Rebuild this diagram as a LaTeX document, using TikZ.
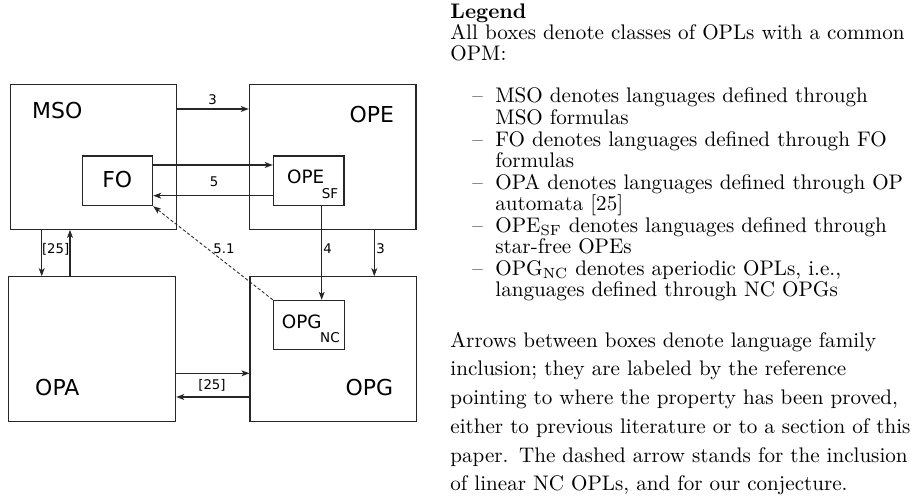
\documentclass[tikz,border=0pt]{standalone}
\usepackage{fontspec}
\newfontfamily\diagfont{DejaVu Sans}
\usetikzlibrary{arrows.meta,fit}

\tikzset{
  box/.style={draw=black!85, line width=0.5pt, inner sep=0pt},
  boxname/.style={font=\diagfont\fontsize{10.4}{12}\selectfont, inner sep=0pt},
  innername/.style={font=\diagfont\fontsize{8.7}{10}\selectfont, inner sep=0pt},
  subname/.style={font=\diagfont\fontsize{6.4}{7}\selectfont, inner sep=0pt},
  edgelbl/.style={font=\diagfont\fontsize{6.3}{7}\selectfont, inner sep=0pt},
  incl/.style={draw=black!85, line width=0.5pt, -{Stealth[length=3.8pt,width=2.8pt,inset=1pt]}},
  conj/.style={incl, dash pattern=on 1.5pt off 1pt, line width=0.4pt},
  legendtxt/.style={inner sep=0pt, text width=240pt, align=left, anchor=base west},
}

\begin{document}
\begin{tikzpicture}[x=0.474pt, y=-0.474pt]
\useasboundingbox (0,0) rectangle (915,503);

% the four classes
\node[box, fit={(10.7,84.3) (176.7,229.3)}] (mso) {};
\node[box, fit={(249.3,84.3) (416,229.3)}] (ope) {};
\node[box, fit={(8.3,276.7) (175.7,421.7)}] (opa) {};
\node[box, fit={(250,276.7) (416.7,421.7)}] (opg) {};

% aperiodic subclasses
\node[box, fit={(82.3,156) (152.7,205.7)}] (fo) {};
\node[box, fit={(273.3,156) (344,205.7)}] (opesf) {};
\node[box, fit={(273.3,300.3) (344.3,349.7)}] (opgnc) {};

% names
\node[boxname] (msoname) at (57.3,110.7) {MSO};
\node[boxname] (opename) at (371.7,114.3) {OPE};
\node[boxname] (opaname) at (57.3,388) {OPA};
\node[boxname] (opgname) at (369.3,388) {OPG};
\node[boxname] (foname) at (117.3,180) {FO};
\node[innername] (opesfname) at (305.7,177) {OPE};
\node[subname] (opesfsub) at (330,194) {SF};
\node[innername] (opgncname) at (301.7,321.7) {OPG};
\node[subname] (opgncsub) at (330,338) {NC};

% inclusions
\draw[incl] (mso.east |- 0,109) -- (ope.west |- 0,109);
\draw[incl] (fo.east |- 0,165) -- (opesf.west |- 0,165);
\draw[incl] (opesf.west |- 0,195.7) -- (fo.east |- 0,195.7);
\draw[incl] (mso.south -| 41.7,0) -- (opa.north -| 41.7,0);
\draw[incl] (opa.north -| 70,0) -- (mso.south -| 70,0);
\draw[incl] (opesf.south -| 321.7,0) -- (opgnc.north -| 321.7,0);
\draw[incl] (ope.south -| 374.3,0) -- (opg.north -| 374.3,0);
\draw[incl] (opa.east |- 0,373.3) -- (opg.west |- 0,373.3);
\draw[incl] (opg.west |- 0,397) -- (opa.east |- 0,397);
\draw[conj] (opgnc.north west) -- (fo.south east);

\node[edgelbl] (l3top) at (212.7,100) {3};
\node[edgelbl] (l5) at (214,181.7) {5};
\node[edgelbl] (l25left) at (55.7,249.3) {[25]};
\node[edgelbl] (l51) at (224,249) {5.1};
\node[edgelbl] (l4) at (327.7,249) {4};
\node[edgelbl] (l3right) at (380.7,249) {3};
\node[edgelbl] (l25bottom) at (212,385) {[25]};

% legend
\node[legendtxt, font=\fontsize{10}{9.95pt}\selectfont] (legendhead) at (450,19)
  {\textbf{Legend}\\All boxes denote classes of OPLs with a common\\OPM:};
\node[legendtxt, font=\fontsize{10}{10.2pt}\selectfont] (legendlist) at (472,103)
  {\makebox[10.9pt][l]{--}MSO denotes languages defined through\\
   \hspace*{10.9pt}MSO formulas\\
   \makebox[10.9pt][l]{--}FO denotes languages defined through FO\\
   \hspace*{10.9pt}formulas\\
   \makebox[10.9pt][l]{--}OPA denotes languages defined through OP\\
   \hspace*{10.9pt}automata [25]\\
   \makebox[10.9pt][l]{--}OPE$_{\mathrm{SF}}$ denotes languages defined through\\
   \hspace*{10.9pt}star-free OPEs\\
   \makebox[10.9pt][l]{--}OPG$_{\mathrm{NC}}$ denotes aperiodic OPLs, i.e.,\\
   \hspace*{10.9pt}languages defined through NC OPGs};
\node[legendtxt, font=\fontsize{10}{13.65pt}\selectfont] (legendnote) at (450,347)
  {Arrows between boxes denote language family\\
   inclusion; they are labeled by the reference\\
   pointing to where the property has been proved,\\
   either to previous literature or to a section of this\\
   paper. The dashed arrow stands for the inclusion\\
   of linear NC OPLs, and for our conjecture.};

\end{tikzpicture}
\end{document}
